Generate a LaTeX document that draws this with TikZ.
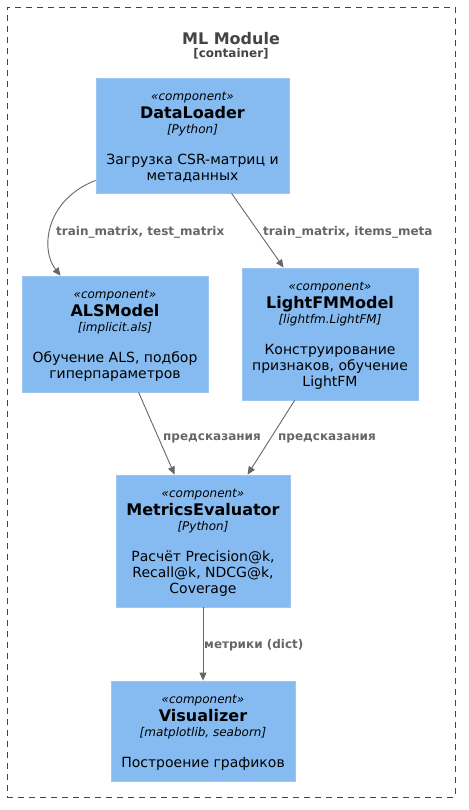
\documentclass[tikz,border=0pt]{standalone}
\usepackage{fontspec}
\setmainfont{DejaVu Sans}
\usetikzlibrary{arrows.meta,calc}
\definecolor{compfill}{HTML}{85BBF0}
\definecolor{compdraw}{HTML}{9CC7F2}
\definecolor{arrowcol}{HTML}{666666}
\definecolor{titlecol}{HTML}{444444}
\newcommand{\compcontent}[4]{{\fontsize{12}{16}\selectfont\itshape «#1»}\\[1.5pt]{\fontsize{16}{16}\selectfont\bfseries #2}\\[-0.5pt]{\fontsize{12}{16}\selectfont\itshape [#3]}\\[15pt]#4}
\tikzset{
  compbox/.style={draw=compdraw, fill=compfill, line width=0.8pt, inner sep=0pt},
  comptext/.style={align=center, inner sep=0pt, font=\fontsize{14}{16}\selectfont, text=black},
  conn/.style={draw=arrowcol, line width=0.9pt, -{Triangle[length=8pt,width=7pt]}},
  lbl/.style={anchor=west, inner sep=0pt, text=arrowcol, font=\fontsize{12}{14}\selectfont\bfseries}
}
\begin{document}
\begin{tikzpicture}[x=1pt,y=-1pt]
\useasboundingbox (0,0) rectangle (468,810);
\node[draw=titlecol, dash pattern=on 6pt off 5pt, line width=0.8pt, minimum width=448pt, minimum height=790pt, inner sep=0pt] (bound) at (231,402) {};
\node[text=titlecol, font=\fontsize{16}{18}\selectfont\bfseries, inner sep=0pt] (title) at (231,39) {ML Module};
\node[text=titlecol, font=\fontsize{12}{14}\selectfont\bfseries, inner sep=0pt] (ctype) at (231,54) {[container]};

\node[compbox, minimum width=193pt, minimum height=115pt] (dl) at (192.5,135.5) {};
\node[comptext] (dlt) at ($(dl.center)+(0,2)$)
  {\compcontent{component}{DataLoader}{Python}{Загрузка CSR-матриц и\\метаданных}};
\node[compbox, minimum width=186pt, minimum height=116pt] (als) at (115,334) {};
\node[comptext] (alst) at ($(als.center)+(0,2)$)
  {\compcontent{component}{ALSModel}{implicit.als}{Обучение ALS, подбор\\гиперпараметров}};
\node[compbox, minimum width=176pt, minimum height=132pt] (lfm) at (330,334) {};
\node[comptext] (lfmt) at ($(lfm.center)+(0,2)$)
  {\compcontent{component}{LightFMModel}{lightfm.LightFM}{Конструирование\\признаков, обучение\\LightFM}};
\node[compbox, minimum width=174pt, minimum height=132pt] (me) at (203,541) {};
\node[comptext] (met) at ($(me.center)+(0,2)$)
  {\compcontent{component}{MetricsEvaluator}{Python}{Расчёт Precision@k,\\Recall@k, NDCG@k,\\Coverage}};
\node[compbox, minimum width=184pt, minimum height=100pt] (vis) at (203,731) {};
\node[comptext] (vist) at ($(vis.center)+(0,2)$)
  {\compcontent{component}{Visualizer}{matplotlib, seaborn}{Построение графиков}};

\coordinate (dlA) at ($(dl.south west)+(0,-13)$);
\coordinate (alsIn) at ($(als.north west)+(39,0)$);
\draw[conn] (dlA) .. controls (45,200) and (40,250) .. (alsIn);
\draw[conn] ($(dl.south west)+(136,0)$) -- ($(lfm.north west)+(42,0)$);
\draw[conn] ($(als.south west)+(117,0)$) -- ($(me.north west)+(59,0)$);
\draw[conn] ($(lfm.south west)+(53,0)$) -- ($(me.north west)+(132,0)$);
\draw[conn] (me.south) -- (vis.north);

\node[lbl] (l1) at (56,232) {train\_matrix, test\_matrix};
\node[lbl] (l2) at (263,232) {train\_matrix, items\_meta};
\node[lbl] (l3) at (163,438) {предсказания};
\node[lbl] (l4) at (278,438) {предсказания};
\node[lbl] (l5) at (204,645) {метрики (dict)};
\end{tikzpicture}
\end{document}
